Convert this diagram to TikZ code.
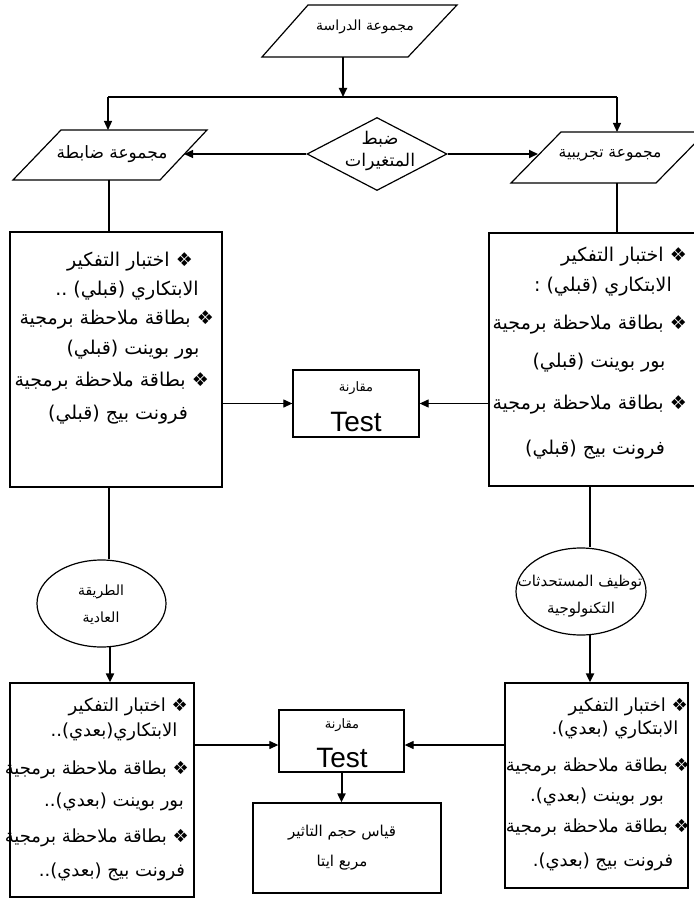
\documentclass[tikz,border=0pt]{standalone}
\usepackage{fontspec}
\setmainfont{DejaVu Sans}
\newfontfamily\arfont[Script=Arabic]{DejaVu Sans}
\newfontfamily\latfont{Liberation Sans}
\TeXXeTstate=1
\usetikzlibrary{arrows.meta,shapes.geometric}
\newcommand{\AR}[1]{{\arfont\beginR #1\endR}}
\newcommand{\fsz}[1]{\fontsize{#1}{#1}\selectfont}
\begin{document}
\begin{tikzpicture}[x=1pt,y=-1pt,
  conn/.style={line width=1.2pt},
  arr/.style={conn,-{Triangle[length=9pt,width=8pt]}},
  arrthick/.style={line width=2pt,-{Triangle[length=9pt,width=8pt]}},
  shapeline/.style={line width=1.2pt,line join=miter},
  box/.style={draw,line width=1.3pt,rectangle,inner sep=0pt},
  ellbox/.style={draw,line width=1.2pt,ellipse,inner sep=0pt},
  txt/.style={inner sep=0pt,font=\arfont\fsz{19}},
  txtb/.style={inner sep=0pt,font=\arfont\fsz{18}},
  ptxt/.style={inner sep=0pt,font=\arfont\fsz{14}},
  small/.style={inner sep=0pt,font=\arfont\fsz{13}},
  testtxt/.style={inner sep=0pt,font=\latfont\fsz{28}}]
\fill[white] (0,0) rectangle (693,901);
\useasboundingbox (0,0) rectangle (693,901);

% parallelograms
\draw[shapeline] (262,57) -- (408,57) -- (457,5) -- (308,5) -- cycle;
\node[ptxt] (ptop) at (365,27) {\AR{مجموعة الدراسة}};
\draw[shapeline] (13,180) -- (160,180) -- (207,130) -- (61,130) -- cycle;
\node[inner sep=0pt,font=\arfont\fsz{17}] (pleft) at (112,154) {\AR{مجموعة ضابطة}};
\draw[shapeline] (511,183) -- (656,183) -- (706,132) -- (561,132) -- cycle;
\node[inner sep=0pt,font=\arfont\fsz{15.5}] (pright) at (610,155) {\AR{مجموعة تجريبية}};

\coordinate (ptop-s) at (343,57);
\coordinate (hl) at (343,97);
\coordinate (hl-l) at (108,97);
\coordinate (hl-r) at (617,97);
\coordinate (pl-n) at (108,130);
\coordinate (pr-n) at (617,132);
\coordinate (pl-e) at (184,154);
\coordinate (pr-w) at (538,154);
\coordinate (pl-s) at (109,180);
\coordinate (pr-s) at (617,183);

% diamond
\node[draw,diamond,line width=1.2pt,minimum width=140pt,minimum height=73pt,inner sep=0pt] (dia) at (377,154) {};
\node[inner sep=0pt,font=\arfont\fsz{17.5},align=center] (diatxt) at (380,151) {\AR{ضبط}\\[4pt]\AR{المتغيرات}};

% boxes
\node[box,minimum width=212pt,minimum height=255pt] (b1l) at (116,359.5) {};
\node[box,minimum width=207pt,minimum height=253pt] (b1r) at (592.5,359.5) {};
\node[box,minimum width=126pt,minimum height=67pt] (t1) at (356,403.5) {};
\node[box,minimum width=184pt,minimum height=214pt] (b2l) at (102,790) {};
\node[box,minimum width=183pt,minimum height=205pt] (b2r) at (596.5,785.5) {};
\node[box,minimum width=125pt,minimum height=62pt] (t2) at (341.5,741) {};
\node[box,minimum width=188pt,minimum height=90pt] (res) at (347,848) {};

% ellipses
\node[ellbox,minimum width=129pt,minimum height=87pt] (el) at (101.5,603.5) {};
\node[ellbox,minimum width=130pt,minimum height=87pt] (er) at (581,591.5) {};

\coordinate (b1l-s) at (109,487);
\coordinate (b1r-s) at (590,486);
\coordinate (el-s) at (110,647);
\coordinate (er-s) at (590,635);
\coordinate (t2w) at ([yshift=-4pt]t2.west);
\coordinate (t2e) at ([yshift=-4pt]t2.east);

% connectors
\draw[arrthick] (ptop-s) -- (hl);
\draw[conn] (hl-l) -- (hl-r);
\draw[arr] (hl-l) -- (pl-n);
\draw[arr] (hl-r) -- (pr-n);
\draw[arr] (dia.west) -- (pl-e);
\draw[arrthick] (dia.east) -- (pr-w);
\draw[conn] (pl-s) -- (pl-s |- b1l.north);
\draw[conn] (pr-s) -- (pr-s |- b1r.north);
\draw[arr] (t1.west -| b1l.east) -- (t1.west);
\draw[arr] (t1.east -| b1r.west) -- (t1.east);
\draw[conn] (b1l-s) -- (b1l-s |- el.north);
\draw[conn] (b1r-s) -- (b1r-s |- er.north);
\draw[arrthick] (el-s) -- (el-s |- b2l.north);
\draw[arrthick] (er-s) -- (er-s |- b2r.north);
\draw[arr] (t2w -| b2l.east) -- (t2w);
\draw[arr] (t2e -| b2r.west) -- (t2e);
\draw[arrthick] (t2.south) -- (t2.south |- res.north);

% texts: box 1 left
\node[txt,anchor=east] (a1) at (193,262) {\AR{❖ اختبار التفكير}};
\node[txt] (a2) at (127,291) {\AR{الابتكاري (قبلي) ..}};
\node[txt,anchor=east] (a3) at (214,320) {\AR{❖ بطاقة ملاحظة برمجية}};
\node[txt] (a4) at (133,350) {\AR{بور بوينت (قبلي)}};
\node[txt,anchor=east] (a5) at (209,382) {\AR{❖ بطاقة ملاحظة برمجية}};
\node[txt] (a6) at (118,415) {\AR{فرونت بيج (قبلي)}};
% box 1 right
\node[txt,anchor=east] (b1) at (687,257) {\AR{❖ اختبار التفكير}};
\node[txt] (b2) at (603,287) {\AR{الابتكاري (قبلي) :}};
\node[txt,anchor=east] (b3) at (687,325) {\AR{❖ بطاقة ملاحظة برمجية}};
\node[txt] (b4) at (599,363) {\AR{بور بوينت (قبلي)}};
\node[txt,anchor=east] (b5) at (687,405) {\AR{❖ بطاقة ملاحظة برمجية}};
\node[txt] (b6) at (595,450) {\AR{فرونت بيج (قبلي)}};
% box 2 left
\node[txtb,anchor=east] (c1) at (188,707) {\AR{❖ اختبار التفكير}};
\node[txtb] (c2) at (114,732) {\AR{الابتكاري(بعدي)..}};
\node[txtb,anchor=east] (c3) at (189,770) {\AR{❖ بطاقة ملاحظة برمجية}};
\node[txtb] (c4) at (114,802) {\AR{بور بوينت (بعدي)..}};
\node[txtb,anchor=east] (c5) at (189,838) {\AR{❖ بطاقة ملاحظة برمجية}};
\node[txtb] (c6) at (112,872) {\AR{فرونت بيج (بعدي)..}};
% box 2 right
\node[txtb,anchor=east] (d1) at (688,707) {\AR{❖ اختبار التفكير}};
\node[txtb] (d2) at (615,730) {\AR{الابتكاري (بعدي).}};
\node[txtb,anchor=east] (d3) at (690,767) {\AR{❖ بطاقة ملاحظة برمجية}};
\node[txtb] (d4) at (597,797) {\AR{بور بوينت (بعدي).}};
\node[txtb,anchor=east] (d5) at (690,828) {\AR{❖ بطاقة ملاحظة برمجية}};
\node[txtb] (d6) at (603,862) {\AR{فرونت بيج (بعدي).}};

% ellipse texts
\node[ptxt] (elt1) at (101,592) {\AR{الطريقة}};
\node[ptxt] (elt2) at (101,618) {\AR{العادية}};
\node[inner sep=0pt,font=\arfont\fsz{15}] (ert1) at (580,583) {\AR{توظيف المستحدثات}};
\node[inner sep=0pt,font=\arfont\fsz{15}] (ert2) at (581,610) {\AR{التكنولوجية}};

% test texts
\node[small] (t1a) at (356,388) {\AR{مقارنة}};
\node[testtxt] (t1b) at (356,422) {Test};
\node[small] (t2a) at (342,725) {\AR{مقارنة}};
\node[testtxt] (t2b) at (342,758) {Test};
\node[inner sep=0pt,font=\arfont\fsz{15}] (r1) at (342,833) {\AR{قياس حجم التاثير}};
\node[inner sep=0pt,font=\arfont\fsz{15}] (r2) at (342,863) {\AR{مربع ايتا}};
\end{tikzpicture}
\end{document}
